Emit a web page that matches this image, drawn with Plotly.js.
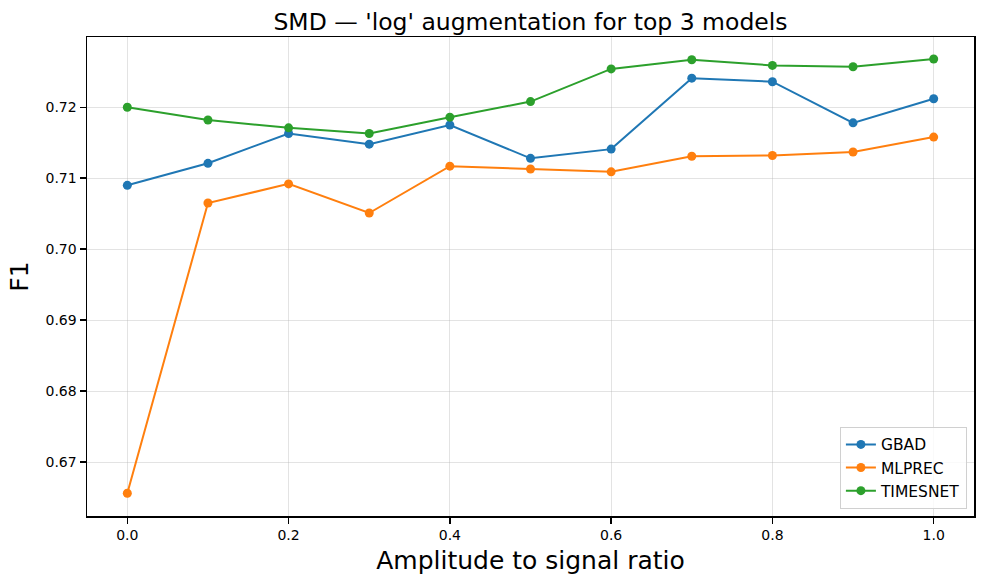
<!DOCTYPE html>
<html>
<head>
<meta charset="utf-8">
<script src="https://cdn.plot.ly/plotly-3.0.1.min.js"></script>
<style>html,body{margin:0;padding:0;background:#fff;}#chart{width:984px;height:584px;}</style>
</head>
<body>
<div id="chart"></div>
<script>
const ratios = [0.0, 0.1, 0.2, 0.3, 0.4, 0.5, 0.6, 0.7, 0.8, 0.9, 1.0];
const gbad = [0.7090, 0.7121, 0.7163, 0.7148, 0.7175, 0.7128, 0.7141, 0.7241, 0.7236, 0.7178, 0.7212];
const mlprec = [0.6656, 0.7065, 0.7092, 0.7051, 0.7117, 0.7113, 0.7109, 0.7131, 0.7132, 0.7137, 0.7158];
const timesnet = [0.7200, 0.7182, 0.7171, 0.7163, 0.7186, 0.7208, 0.7254, 0.7267, 0.7259, 0.7257, 0.7268];
const seriesNames = ["GBAD", "MLPREC", "TIMESNET"];
const colors = ["#1f77b4", "#ff7f0e", "#2ca02c"];
const xTicks = [0.0, 0.2, 0.4, 0.6, 0.8, 1.0];
const yTicks = [0.67, 0.68, 0.69, 0.70, 0.71, 0.72];

const font = "DejaVu Sans, sans-serif";
const traces = [gbad, mlprec, timesnet].map((ys, i) => ({
  x: ratios, y: ys, name: seriesNames[i],
  type: "scatter", mode: "lines+markers",
  line: {color: colors[i], width: 2}, marker: {color: colors[i], size: 9}
}));

const axisCommon = {
  showline: true, mirror: true, linecolor: "#000", linewidth: 1.5,
  ticks: "outside", ticklen: 6, tickwidth: 1.5, tickcolor: "#000",
  showgrid: true, gridcolor: "rgba(176,176,176,0.35)", gridwidth: 1,
  zeroline: false, tickfont: {family: font, size: 14, color: "#000"}
};

const layout = {
  width: 984, height: 584,
  margin: {l: 87, r: 10, t: 37, b: 68},
  paper_bgcolor: "#fff", plot_bgcolor: "#fff",
  title: {text: "SMD — 'log' augmentation for top 3 models", font: {family: font, size: 23.5, color: "#000"}, xref: "paper", x: 0.5, xanchor: "center", y: 0.963, yanchor: "middle"},
  xaxis: Object.assign({}, axisCommon, {
    range: [-0.05, 1.05], tickvals: xTicks, ticktext: xTicks.map(v => v.toFixed(1)),
    title: {text: "Amplitude to signal ratio", font: {family: font, size: 25, color: "#000"}, standoff: 9}
  }),
  yaxis: Object.assign({}, axisCommon, {
    range: [0.6624, 0.7299], tickvals: yTicks, ticktext: yTicks.map(v => v.toFixed(2)),
    title: {text: "F1", font: {family: font, size: 25, color: "#000"}, standoff: 10}
  }),
  legend: {
    x: 0.992, y: 0.015, xanchor: "right", yanchor: "bottom",
    bgcolor: "rgba(255,255,255,0.8)", bordercolor: "#d0d0d0", borderwidth: 1,
    font: {family: font, size: 15.5, color: "#000"}
  },
  showlegend: true
};

Plotly.newPlot("chart", traces, layout, {displayModeBar: false, staticPlot: true});
</script>
</body>
</html>
